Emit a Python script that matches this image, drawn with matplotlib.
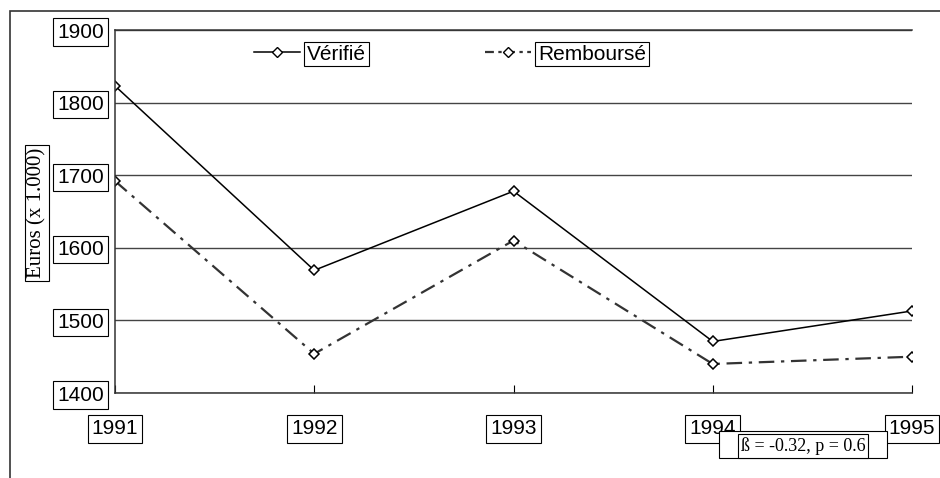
import matplotlib
matplotlib.use('Agg')
import matplotlib.pyplot as plt
from matplotlib.patches import Rectangle
from matplotlib.lines import Line2D

years = [1991, 1992, 1993, 1994, 1995]
verifie = [1823, 1569, 1678, 1471, 1513]
rembourse = [1692, 1454, 1610, 1440, 1450]
yticks = [1400, 1500, 1600, 1700, 1800, 1900]

plt.rcParams['font.family'] = ['Liberation Sans', 'DejaVu Sans']

fig = plt.figure(figsize=(9.4, 4.78), dpi=100)
# outer frame (only left and top edges visible)
fig.patches.append(Rectangle((10/940, -0.2), 1.2, 0.2 + 1 - 11/478, transform=fig.transFigure,
                             fill=False, edgecolor='#333333', lw=1.2))

ax = fig.add_axes([115/940, 85/478, 797/940, 363/478])
box = dict(facecolor='white', edgecolor='black', lw=0.8, pad=3)

ax.plot(years, verifie, color='black', lw=1.1, marker='D', ms=5,
        mfc='white', mec='black', mew=1.1, label='Vérifié')
ax.plot(years, rembourse, color='#333333', lw=1.6, ls=(0, (7, 3, 1.5, 3)), marker='D', ms=5,
        mfc='white', mec='black', mew=1.1, label='Remboursé')

ax.set_xlim(1991, 1995)
ax.set_ylim(1400, 1900)
ax.set_xticks(years)
ax.set_yticks(yticks)
ax.yaxis.grid(True, color='#444444', lw=1)
ax.set_axisbelow(True)
ax.spines['right'].set_visible(False)
for s in ['left', 'bottom', 'top']:
    ax.spines[s].set_color('#333333')
    ax.spines[s].set_linewidth(1.1)
ax.tick_params(axis='x', direction='in', length=6, pad=19, labelsize=15)
ax.tick_params(axis='y', length=0, pad=8, labelsize=15)
for lab in ax.get_xticklabels() + ax.get_yticklabels():
    lab.set_bbox(box)

fig.text(37/940, 1 - 213/478, 'Euros (x 1.000)', rotation=90, ha='center', va='center',
         family='Liberation Serif', fontsize=15, bbox=dict(facecolor='white', edgecolor='black', lw=0.8, pad=2))

# legend
h1 = Line2D([], [], color='black', lw=1.1, marker='D', ms=5, mfc='white', mec='black')
h2 = Line2D([], [], color='#333333', lw=1.6, ls=(0, (4, 2, 1.5, 2)), marker='D', ms=5,
            mfc='white', mec='black')
leg1 = fig.legend([h1], ['Vérifié'], loc='center left', bbox_to_anchor=(235/940, 1 - 54/478),
                  frameon=False, fontsize=15, handlelength=2.2, handletextpad=0.35)
leg2 = fig.legend([h2], ['Remboursé'], loc='center left', bbox_to_anchor=(466/940, 1 - 54/478),
                  frameon=False, fontsize=15, handlelength=2.2, handletextpad=0.35)
for leg in (leg1, leg2):
    for t in leg.get_texts():
        t.set_bbox(dict(facecolor='white', edgecolor='black', lw=0.8, pad=2))

# stats annotation
fig.patches.append(Rectangle((719/940, 1 - 458/478), 168/940, 27/478, transform=fig.transFigure,
                             facecolor='white', edgecolor='black', lw=0.8))
fig.text(803/940, 1 - 446/478, 'ß = -0.32, p = 0.6', ha='center', va='center',
         family='Liberation Serif', fontsize=13, bbox=dict(facecolor='white', edgecolor='black', lw=0.8, pad=2))

fig.savefig('out.png', dpi=100)
